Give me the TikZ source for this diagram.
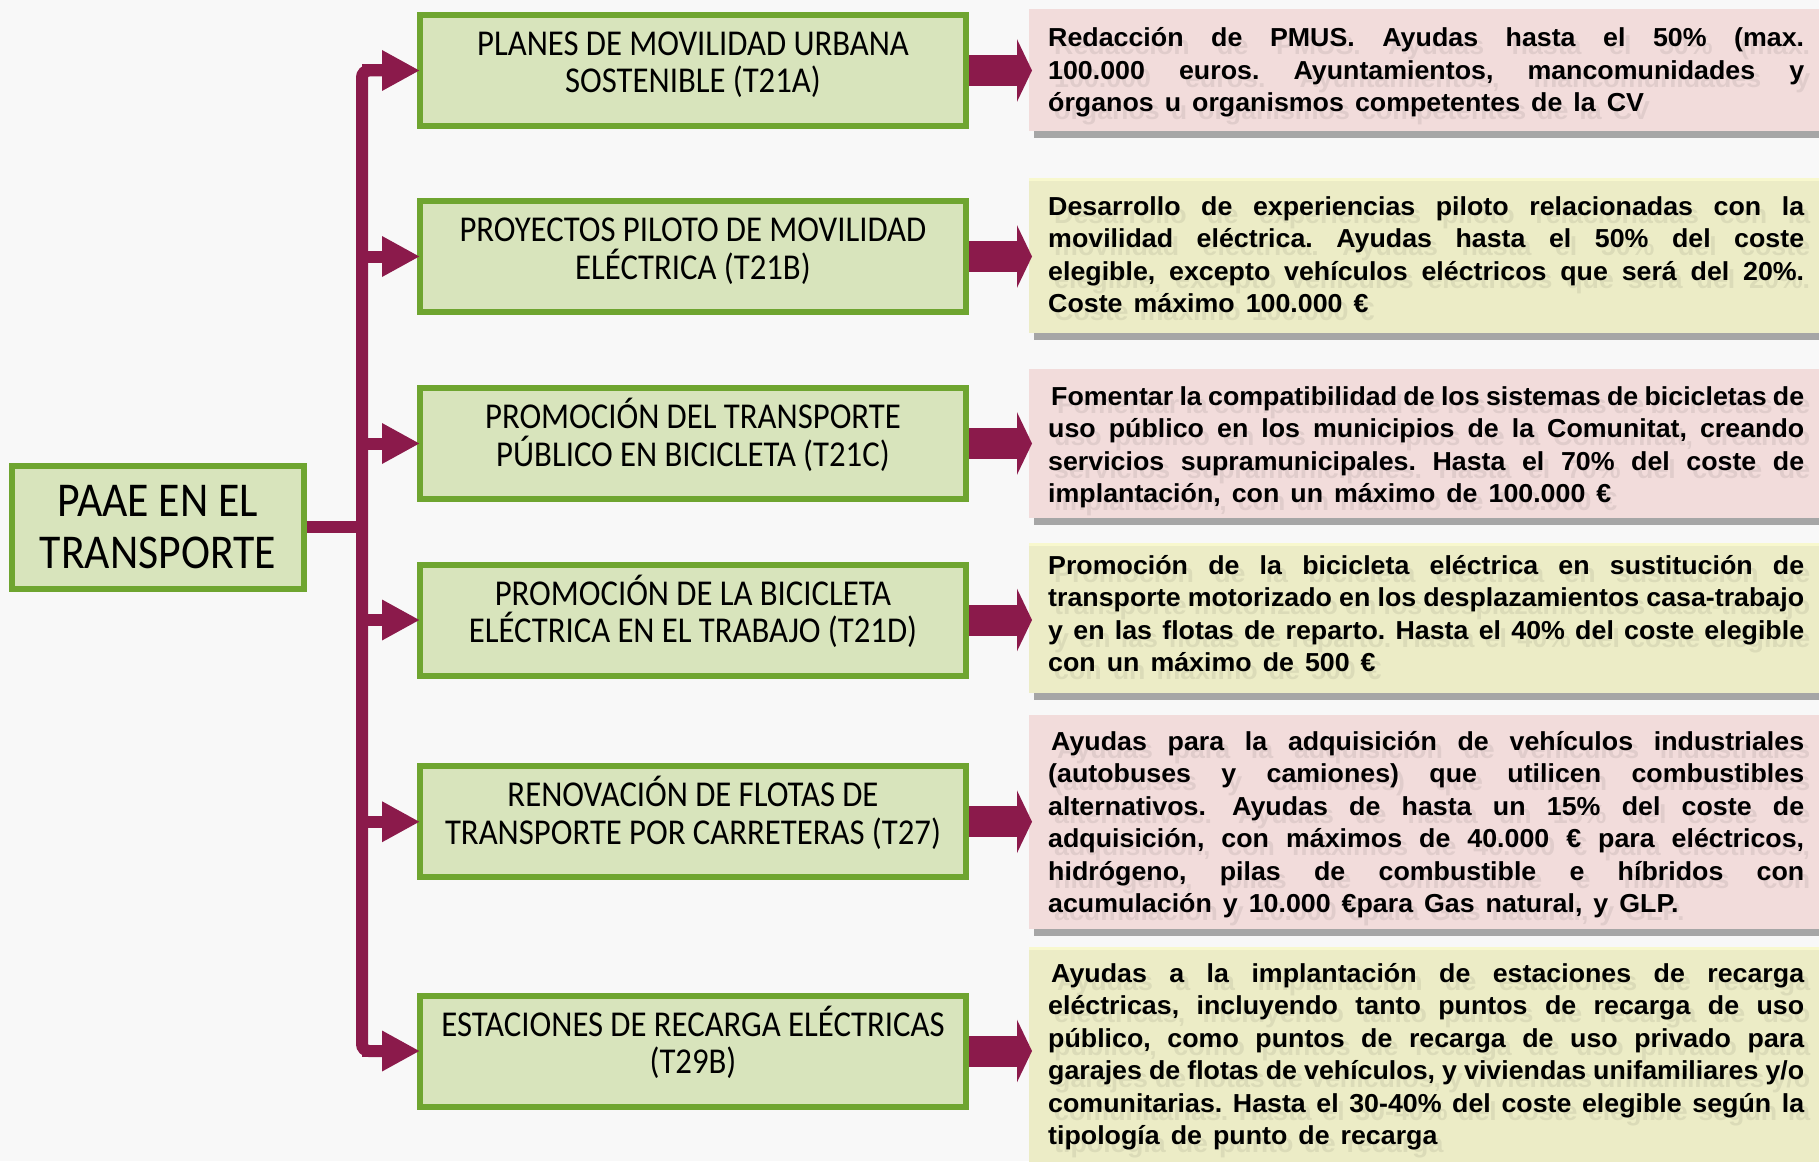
\documentclass[tikz,border=0pt]{standalone}
\usepackage{fontspec}
\usetikzlibrary{arrows.meta,shadows,calc}
\newfontfamily\lfont[FakeStretch=0.9]{Carlito}
\newfontfamily\dfont[FakeStretch=1.03]{Liberation Sans}
\definecolor{bgc}{HTML}{F8F8F8}
\definecolor{grnline}{HTML}{6FA530}
\definecolor{grnfill}{HTML}{D8E4BC}
\definecolor{mag}{HTML}{8B1A4B}
\definecolor{pinkbox}{HTML}{F2DCDB}
\definecolor{yelbox}{HTML}{ECECC6}
\definecolor{yeltop}{HTML}{F8F8CE}
\definecolor{shad}{HTML}{A6A6A6}
\newcommand\tl{\rule{0pt}{31pt}}
\newcommand\bl{\rule[-23.5pt]{0pt}{0pt}}
\newcommand\jl[1]{\hbox to 756pt{\spaceskip=0pt\xspaceskip=0pt\strut#1}}
\newcommand\lastl[1]{\hbox{\spaceskip=11pt\xspaceskip=11pt\strut#1}}
\newcommand\lsetup{\lfont\fontsize{36.4}{37.5}\selectfont\lineskiplimit=-100pt\relax}
\newcommand\psetup{\lfont\fontsize{48.6}{52}\selectfont\lineskiplimit=-100pt\relax}
\newcommand\dsetup{\dfont\bfseries\fontsize{26}{32.5}\selectfont\frenchspacing\lineskiplimit=-100pt\relax}
\newcommand\descA{\vbox{\jl{Redacción de PMUS. Ayudas hasta el 50\% (max.}\jl{100.000 euros. Ayuntamientos, mancomunidades y}\lastl{órganos u organismos competentes de la CV}}}
\newcommand\descB{\vbox{\jl{Desarrollo de experiencias piloto relacionadas con la}\jl{movilidad eléctrica. Ayudas hasta el 50\% del coste}\jl{elegible, excepto vehículos eléctricos que será del 20\%.}\lastl{Coste máximo 100.000 €}}}
\newcommand\descC{\vbox{\jl{\hspace{3pt}Fomentar la compatibilidad de los sistemas de bicicletas de}\jl{uso público en los municipios de la Comunitat, creando}\jl{servicios supramunicipales. Hasta el 70\% del coste de}\lastl{implantación, con un máximo de 100.000 €}}}
\newcommand\descD{\vbox{\jl{Promoción de la bicicleta eléctrica en sustitución de}\jl{transporte motorizado en los desplazamientos casa-trabajo}\jl{y en las flotas de reparto. Hasta el 40\% del coste elegible}\lastl{con un máximo de 500 €}}}
\newcommand\descE{\vbox{\jl{\hspace{3pt}Ayudas para la adquisición de vehículos industriales}\jl{(autobuses y camiones) que utilicen combustibles}\jl{alternativos.\hspace{5pt} Ayudas de hasta un 15\% del coste de}\jl{adquisición, con máximos de 40.000 € para eléctricos,}\jl{hidrógeno, pilas de combustible e híbridos con}\lastl{acumulación y 10.000 €para Gas natural, y GLP.}}}
\newcommand\descF{\vbox{\jl{\hspace{3pt}Ayudas a la implantación de estaciones de recarga}\jl{eléctricas, incluyendo tanto puntos de recarga de uso}\jl{público, como puntos de recarga de uso privado para}\jl{garajes de flotas de vehículos, y viviendas unifamiliares y/o}\jl{comunitarias. Hasta el 30-40\% del coste elegible según la}\lastl{tipología de punto de recarga}}}
\tikzset{
  lbox/.style={draw=grnline, fill=grnfill, line width=6pt, minimum width=546pt,
    minimum height=111pt, text width=540pt, align=center, inner sep=0pt,
    font=\lsetup, text=black, execute at begin node={\spaceskip=.2em\xspaceskip=.2em}},
  pbox/.style={draw=grnline, fill=grnfill, line width=6pt, minimum width=291.7pt,
    minimum height=123pt, text width=285pt, align=center, inner sep=0pt,
    font=\psetup, text=black, execute at begin node={\spaceskip=.2em\xspaceskip=.2em}},
  rbox/.style={minimum width=800pt, inner sep=0pt, anchor=north west,
    drop shadow={shadow xshift=5pt, shadow yshift=-7pt, fill=shad, opacity=1}},
  pinkb/.style={rbox, fill=pinkbox},
  yelb/.style={rbox, fill=yelbox},
  desc/.style={text width=756pt, inner sep=0pt, anchor=north west, font=\dsetup, text=black},
  ghost/.style={desc, text opacity=0.07},
  conn/.style={draw=mag, line width=12pt},
  branch/.style={conn, -{Triangle[length=38pt,width=38pt]}},
  fatarrow/.style={draw=mag, line width=31pt, -{Triangle[length=15pt,width=62pt]}},
}
\begin{document}
\begin{tikzpicture}[x=1pt,y=-1pt]
\useasboundingbox (0,0) rectangle (1819,1161);
\clip (0,0) rectangle (1819,1161);
\fill[bgc] (0,0) rectangle (1819,1161);
% right description boxes
\node[pinkb, minimum height=122pt] (r1) at (1029,9) {};
\node[yelb, minimum height=155pt] (r2) at (1029,178) {};
\node[pinkb, minimum height=149pt] (r3) at (1029,369) {};
\node[yelb, minimum height=150pt] (r4) at (1029,543) {};
\node[pinkb, minimum height=214pt] (r5) at (1029,715) {};
\node[yelb, minimum height=240pt] (r6) at (1029,947) {};
\foreach \r in {r2,r4,r6}{
  \draw[yeltop, line width=3pt] ([yshift=-1.5pt]\r.north west) -- ([yshift=-1.5pt]\r.north east);
}
% ghost texts
\node[ghost] (g1) at (1054,31.95) {\descA};
\node[ghost] (g2) at (1054,200.25) {\descB};
\node[ghost] (g3) at (1054,390.25) {\descC};
\node[ghost] (g4) at (1054,559.25) {\descD};
\node[ghost] (g5) at (1054,735.25) {\descE};
\node[ghost] (g6) at (1054,967.25) {\descF};
% texts
\node[desc] (t1) at (1048,23.95) {\descA};
\node[desc] (t2) at (1048,192.25) {\descB};
\node[desc] (t3) at (1048,382.25) {\descC};
\node[desc] (t4) at (1048,551.25) {\descD};
\node[desc] (t5) at (1048,727.25) {\descE};
\node[desc] (t6) at (1048,959.25) {\descF};
% left boxes
\node[pbox] (paae) at (157.85,527.2) {PAAE EN EL\\TRANSPORTE};
\node[lbox] (l1) at (693,70.5) {\tl PLANES DE MOVILIDAD URBANA\\SOSTENIBLE (T21A)\bl};
\node[lbox] (l2) at (693,256.5) {\tl PROYECTOS PILOTO DE MOVILIDAD\\ELÉCTRICA (T21B)\bl};
\node[lbox] (l3) at (693,443.5) {\tl PROMOCIÓN DEL TRANSPORTE\\PÚBLICO EN BICICLETA (T21C)\bl};
\node[lbox] (l4) at (693,620) {\tl PROMOCIÓN DE LA BICICLETA\\ELÉCTRICA EN EL TRABAJO (T21D)\bl};
\node[lbox] (l5) at (693,821.75) {\tl RENOVACIÓN DE FLOTAS DE\\TRANSPORTE POR CARRETERAS (T27)\bl};
\node[lbox] (l6) at (693,1051) {\tl ESTACIONES DE RECARGA ELÉCTRICAS\\(T29B)\bl};
% connectors
\coordinate (tx) at (362,0);
\draw[conn, rounded corners=7pt] ([xshift=-30pt]l1.west) -| (tx |- l6.west) -- ([xshift=-30pt]l6.west);
\draw[conn] (paae.east) -- (paae.east -| tx);
\foreach \i in {1,...,6}{
  \draw[branch] (tx |- l\i.west) -- ([xshift=3pt]l\i.west);
  \draw[fatarrow] (l\i.east) -- ([xshift=3pt]l\i.east -| r\i.west);
}
\end{tikzpicture}
\end{document}
